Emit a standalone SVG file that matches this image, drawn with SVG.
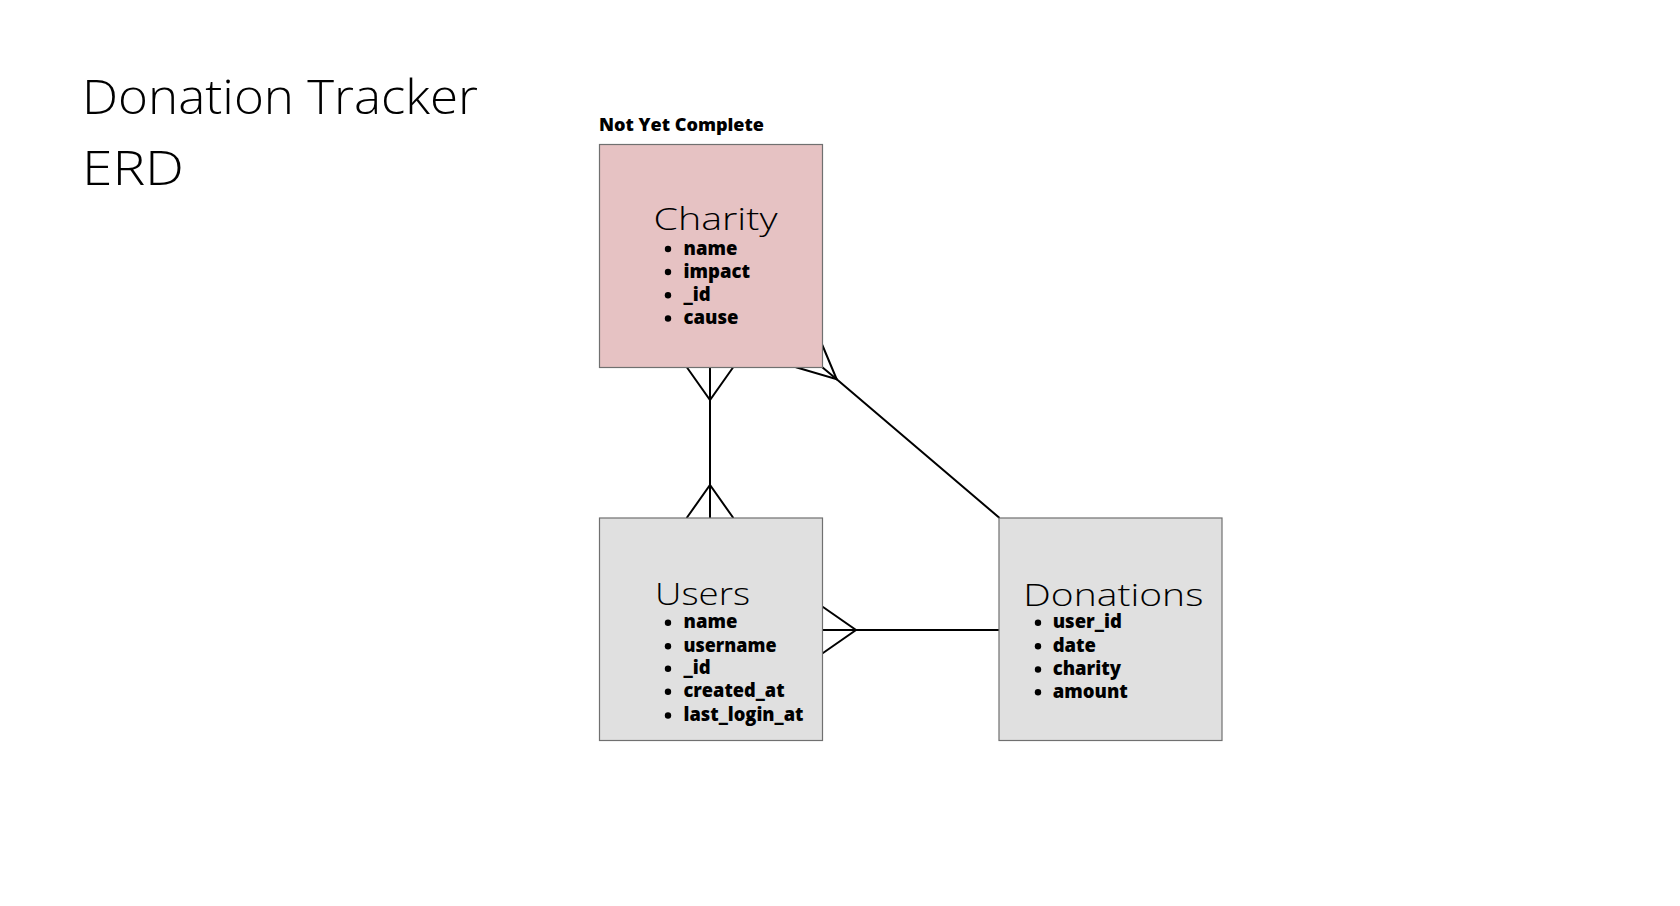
<svg xmlns="http://www.w3.org/2000/svg" width="1680" height="906" viewBox="0 0 1680 906">
<style>
.title{font-family:"Open Sans","Liberation Sans",sans-serif;font-weight:300;fill:#000}
.big{font-size:48px}
.ent{font-size:32px}
.attr{font-family:"Open Sans","Liberation Sans",sans-serif;font-weight:800;font-size:18.5px;fill:#000}
.note{font-family:"Open Sans","Liberation Sans",sans-serif;font-weight:800;font-size:17px;fill:#000}
.conn{stroke:#000;stroke-width:2;fill:none;stroke-linecap:round}
.box{stroke:#707070;stroke-width:1.2}
</style>
<rect width="1680" height="906" fill="#fff"/>
<text class="title big" x="82" y="114" textLength="396" lengthAdjust="spacingAndGlyphs">Donation Tracker</text>
<text class="title big" x="82" y="185" textLength="102" lengthAdjust="spacingAndGlyphs">ERD</text>
<text class="note" x="599" y="130.5" textLength="165" lengthAdjust="spacingAndGlyphs">Not Yet Complete</text>
<g id="connectors">
  <line class="conn" x1="710" y1="367" x2="710" y2="518"/>
  <polyline class="conn" points="687,367.5 710,400 733,367.5"/>
  <polyline class="conn" points="687,517.5 710,485 733,517.5"/>
  <line class="conn" x1="823" y1="630" x2="999" y2="630"/>
  <polyline class="conn" points="823,607 856,630 823,653"/>
  <line class="conn" x1="836.7" y1="379.3" x2="999" y2="517.5"/>
  <polyline class="conn" points="822.3,345 836.7,379.3 796,367.3"/>
  <line class="conn" x1="822.3" y1="367.3" x2="836.7" y2="379.3"/>
</g>
<g id="charity">
  <rect class="box" x="599.5" y="144.5" width="223" height="223" fill="#e6c2c3" stroke="#7d6465"/>
  <text class="title ent" x="653.5" y="230" textLength="124" lengthAdjust="spacingAndGlyphs">Charity</text>
  <g class="attr">
    <circle cx="668" cy="249" r="3.2"/><text x="683.5" y="254.5">name</text>
    <circle cx="668" cy="272" r="3.2"/><text x="683.5" y="277.7">impact</text>
    <circle cx="668" cy="295.3" r="3.2"/><text x="683.5" y="301">_id</text>
    <circle cx="668" cy="318.5" r="3.2"/><text x="683.5" y="324">cause</text>
  </g>
</g>
<g id="users">
  <rect class="box" x="599.5" y="518" width="223" height="222.5" fill="#e0e0e0"/>
  <text class="title ent" x="655" y="605" textLength="95" lengthAdjust="spacingAndGlyphs">Users</text>
  <g class="attr">
    <circle cx="668" cy="622.8" r="3.2"/><text x="683.5" y="628.3">name</text>
    <circle cx="668" cy="646.2" r="3.2"/><text x="683.5" y="651.7" textLength="93" lengthAdjust="spacingAndGlyphs">username</text>
    <circle cx="668" cy="668.8" r="3.2"/><text x="683.5" y="674.3">_id</text>
    <circle cx="668" cy="691.8" r="3.2"/><text x="683.5" y="697.3" textLength="101" lengthAdjust="spacingAndGlyphs">created_at</text>
    <circle cx="668" cy="715.5" r="3.2"/><text x="683.5" y="721" textLength="120" lengthAdjust="spacingAndGlyphs">last_login_at</text>
  </g>
</g>
<g id="donations">
  <rect class="box" x="999" y="518" width="223" height="222.5" fill="#e0e0e0"/>
  <text class="title ent" x="1023.3" y="605.7" textLength="180" lengthAdjust="spacingAndGlyphs">Donations</text>
  <g class="attr">
    <circle cx="1038" cy="622.8" r="3.2"/><text x="1052.7" y="628.3">user_id</text>
    <circle cx="1038" cy="646.2" r="3.2"/><text x="1052.7" y="651.7">date</text>
    <circle cx="1038" cy="669.5" r="3.2"/><text x="1052.7" y="675">charity</text>
    <circle cx="1038" cy="692.2" r="3.2"/><text x="1052.7" y="697.7">amount</text>
  </g>
</g>
</svg>
